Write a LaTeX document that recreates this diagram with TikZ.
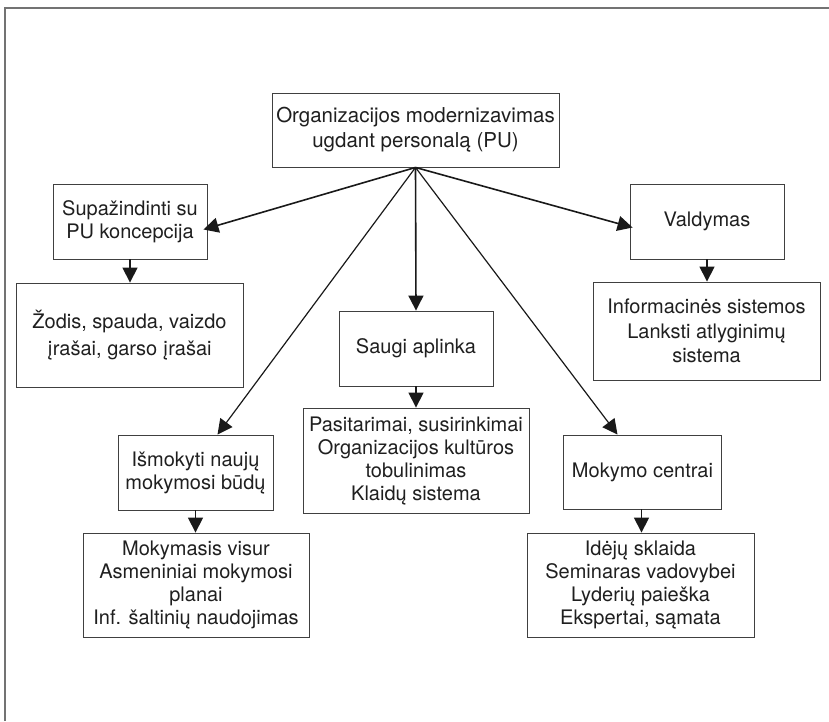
\documentclass[tikz,border=0pt]{standalone}
\usepackage{fontspec}
\setmainfont{TeX Gyre Heros}
\usetikzlibrary{arrows.meta}
\begin{document}
\begin{tikzpicture}[x=1pt,y=-1pt,
  box/.style={draw=black!75, line width=0.9pt, text=black!88, align=center,
    inner sep=0pt, font=\fontsize{20}{23}\selectfont},
  smallbox/.style={box, minimum width=154pt, minimum height=75pt},
  listbox/.style={box, minimum width=227pt, minimum height=104pt},
  link/.style={line width=1.6pt, draw=black!90, -{Triangle[length=15pt,width=15pt]}},
  thinlink/.style={link, line width=1.2pt},
  frame/.style={draw=black!55, line width=1.6pt}]
\useasboundingbox (0,0) rectangle (829,721);

% page frame: top and left rules
\draw[frame] (5,721) -- (5,8) -- (829,8);

% root
\node[box, minimum width=287pt, minimum height=74pt, font=\fontsize{20.5}{25}\selectfont]
  (root) at (415.5,130) {Organizacijos modernizavimas\\ugdant personalą (PU)};

% second level
\node[smallbox] (sup)   at (130,221.5)  {Supažindinti su\\PU koncepcija};
\node[smallbox] (vald)  at (707,221.5)  {Valdymas};
\node[smallbox] (saugi) at (416,348.5)  {Saugi aplinka};
\node[smallbox, minimum width=155pt] (ismok) at (195.5,472.5) {Išmokyti naujų\\mokymosi būdų};
\node[smallbox, minimum width=158pt, minimum height=74pt] (centr) at (642.5,472) {Mokymo centrai};

% third level
\node[listbox, font=\fontsize{20}{27.5}\selectfont] (zod) at (129.5,335)
  {Žodis, spauda, vaizdo\\įrašai, garso įrašai};
\node[listbox, minimum height=98pt, font=\fontsize{20}{24.5}\selectfont] (info) at (706.5,331)
  {Informacinės sistemos\\Lanksti atlyginimų\\sistema};
\node[listbox, minimum width=226pt, minimum height=105pt] (pasit) at (416,460.5)
  {Pasitarimai, susirinkimai\\Organizacijos kultūros\\tobulinimas\\Klaidų sistema};
\node[listbox, minimum width=226pt] (mokym) at (196,585)
  {Mokymasis visur\\Asmeniniai mokymosi\\planai\\Inf. šaltinių naudojimas};
\node[listbox] (idej) at (640.5,585)
  {Idėjų sklaida\\Seminaras vadovybei\\Lyderių paieška\\Ekspertai, sąmata};

% connectors from the root
\draw[link] (root.south) -- ([shift={(-4,8)}]sup.east);
\draw[link] (root.south) -- ([shift={(3,6)}]vald.west);
\draw[link] (root.south) -- (saugi.north);
\draw[thinlink] (root.south) -- ([shift={(22,0)}]ismok.north);
\draw[thinlink] (root.south) -- ([shift={(-25,0)}]centr.north);

% connectors to the lists
\draw[link] (sup.south) -- (sup.south |- zod.north);
\draw[link] (vald.south) -- (vald.south |- info.north);
\draw[link] (saugi.south) -- (pasit.north);
\draw[link] (ismok.south) -- (ismok.south |- mokym.north);
\draw[link] ([xshift=-1pt]centr.south) -- ([xshift=-1pt]centr.south |- idej.north);
\end{tikzpicture}
\end{document}
